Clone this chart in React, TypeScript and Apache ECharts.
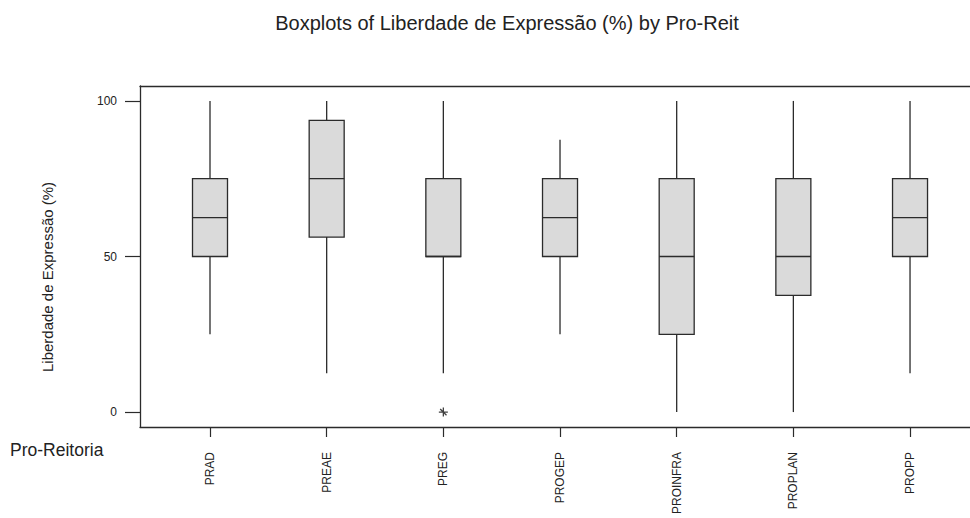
import React, { useEffect, useRef } from "react";
import * as echarts from "echarts";

const categories = ["PRAD", "PREAE", "PREG", "PROGEP", "PROINFRA", "PROPLAN", "PROPP"];
const whiskerLow = [25, 12.5, 12.5, 25, 0, 0, 12.5];
const q1Values = [50, 56.25, 50, 50, 25, 37.5, 50];
const medianValues = [62.5, 75, 50, 62.5, 50, 50, 62.5];
const q3Values = [75, 93.75, 75, 75, 75, 75, 75];
const whiskerHigh = [100, 100, 100, 87.5, 100, 100, 100];
const outliers: [number, number][] = [[2, 0]];
const yTicks = [0, 50, 100];

const titleText = "Boxplots of Liberdade de Expressão (%) by Pro-Reit";
const yTitle = "Liberdade de Expressão (%)";
const xTitle = "Pro-Reitoria";

export default function App() {
  const ref = useRef<HTMLDivElement>(null);
  useEffect(() => {
    if (!ref.current) return;
    const chart = echarts.init(ref.current, null, { renderer: "svg" });
    const font = "Arial, 'Liberation Sans', sans-serif";
    const boxData = categories.map((_, i) => [
      i,
      whiskerLow[i],
      q1Values[i],
      medianValues[i],
      q3Values[i],
      whiskerHigh[i],
    ]);
    const catIdx = categories.map((_, i) => i);
    const stroke = "#2b2b2b";
    chart.setOption({
      animation: false,
      backgroundColor: "#ffffff",
      grid: { left: 140, right: 0, top: 86, bottom: 91 },
      xAxis: [
        {
          type: "value",
          min: -0.6,
          max: 6.514,
          position: "bottom",
          splitLine: { show: false },
          axisLine: { show: true, onZero: false, lineStyle: { color: stroke, width: 1.3 } },
          axisTick: { show: true, customValues: catIdx, length: 10, lineStyle: { color: stroke, width: 1.2 } },
          axisLabel: {
            customValues: catIdx,
            formatter: (v: number) => categories[Math.round(v)] ?? "",
            rotate: 90,
            margin: 25,
            fontSize: 12,
            fontFamily: font,
            color: "#222",
          },
        },
        {
          type: "value",
          min: -0.6,
          max: 6.514,
          position: "top",
          splitLine: { show: false },
          axisLine: { show: true, onZero: false, lineStyle: { color: stroke, width: 1.3 } },
          axisTick: { show: false },
          axisLabel: { show: false },
        },
      ],
      yAxis: {
        type: "value",
        min: -4.8,
        max: 104.8,
        splitLine: { show: false },
        axisLine: { show: true, onZero: false, lineStyle: { color: stroke, width: 1.3 } },
        axisTick: { show: true, customValues: yTicks, length: 15, lineStyle: { color: stroke, width: 1.2 } },
        axisLabel: {
          customValues: yTicks,
          margin: 23,
          fontSize: 12,
          fontFamily: font,
          color: "#222",
        },
      },
      graphic: [
        {
          type: "text",
          x: 507,
          y: 23,
          style: {
            text: titleText,
            font: `20px ${font}`,
            fill: "#222",
            align: "center",
            verticalAlign: "middle",
          },
        },
        {
          type: "text",
          x: 47,
          y: 277,
          rotation: Math.PI / 2,
          style: {
            text: yTitle,
            font: `15px ${font}`,
            fill: "#222",
            align: "center",
            verticalAlign: "middle",
          },
        },
        {
          type: "text",
          x: 10,
          y: 450,
          style: {
            text: xTitle,
            font: `17.5px ${font}`,
            fill: "#222",
            align: "left",
            verticalAlign: "middle",
          },
        },
      ],
      series: [
        {
          type: "custom",
          xAxisIndex: 0,
          yAxisIndex: 0,
          data: boxData,
          encode: { x: 0, y: [1, 2, 3, 4, 5] },
          renderItem: (params: any, api: any) => {
            const x = api.value(0);
            const pLow = api.coord([x, api.value(1)]);
            const pQ1 = api.coord([x, api.value(2)]);
            const pMed = api.coord([x, api.value(3)]);
            const pQ3 = api.coord([x, api.value(4)]);
            const pHigh = api.coord([x, api.value(5)]);
            const half = 17.5;
            const cx = pQ1[0];
            const lineStyle = { stroke, lineWidth: 1.3, fill: null };
            return {
              type: "group",
              children: [
                { type: "line", shape: { x1: cx, y1: pHigh[1], x2: cx, y2: pQ3[1] }, style: lineStyle },
                { type: "line", shape: { x1: cx, y1: pQ1[1], x2: cx, y2: pLow[1] }, style: lineStyle },
                {
                  type: "rect",
                  shape: { x: cx - half, y: pQ3[1], width: half * 2, height: pQ1[1] - pQ3[1] },
                  style: { fill: "#dadada", stroke, lineWidth: 1.3 },
                },
                { type: "line", shape: { x1: cx - half, y1: pMed[1], x2: cx + half, y2: pMed[1] }, style: lineStyle },
              ],
            };
          },
        },
        {
          type: "scatter",
          xAxisIndex: 0,
          yAxisIndex: 0,
          data: outliers,
          symbol: "path://M0,-5L0,5M-5,0L5,0M-3.5,-3.5L3.5,3.5",
          symbolSize: 9,
          itemStyle: { color: "none", borderColor: "#111", borderWidth: 1.3 },
        },
      ],
    });
    return () => chart.dispose();
  }, []);
  return (
    <div
      ref={ref}
      style={{ position: "fixed", left: 0, top: 0, width: 970, height: 518 }}
    />
  );
}
